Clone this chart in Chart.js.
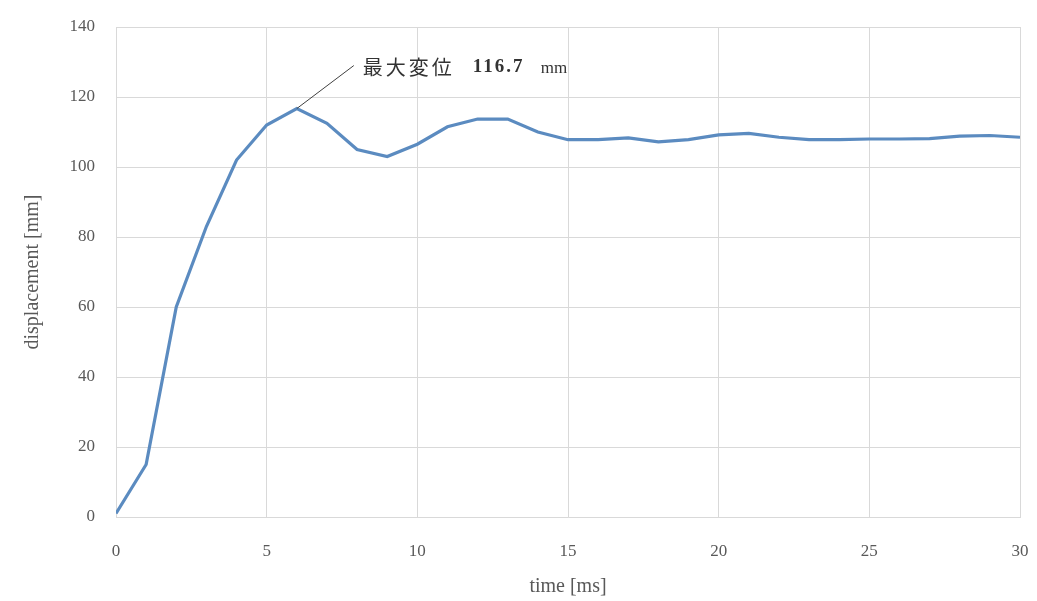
<!DOCTYPE html>
<html>
<head>
<meta charset="utf-8">
<script src="https://cdn.jsdelivr.net/npm/chart.js@4/dist/chart.umd.min.js"></script>
<style>
  html, body { margin: 0; padding: 0; background: #ffffff; }
  #wrap { width: 1037px; height: 601px; }
</style>
</head>
<body>
<div id="wrap"><canvas id="c" width="1037" height="601"></canvas></div>
<script>
// Time samples [ms]
const timeMs = [0,1,2,3,4,5,6,7,8,9,10,11,12,13,14,15,16,17,18,19,20,21,22,23,24,25,26,27,28,29,30];
// Displacement [mm]
const displacementMm = [1, 15, 60, 83, 102, 112, 116.7, 112.5, 105, 103, 106.5, 111.5, 113.7, 113.7, 110, 107.8, 107.8, 108.3, 107.2, 107.8, 109.2, 109.6, 108.5, 107.8, 107.8, 108, 108, 108.1, 108.8, 109, 108.5];
// Axis tick values
const xTicks = [0, 5, 10, 15, 20, 25, 30];
const yTicks = [0, 20, 40, 60, 80, 100, 120, 140];
// Peak annotation
const peakIndex = 6;
const peakWords = '最大変位';
const peakUnit = 'mm';

const points = timeMs.map((t, i) => ({ x: t, y: displacementMm[i] }));

const serif = "'Liberation Serif', 'DejaVu Serif', 'Noto Sans CJK JP', serif";
const tickColor = '#595959';
const gridColor = '#d9d9d9';

// Leader line and text for the maximum displacement
const peakNote = {
  id: 'peakNote',
  afterDatasetsDraw(chart) {
    const { ctx, scales } = chart;
    const peak = displacementMm[peakIndex];
    const px = scales.x.getPixelForValue(timeMs[peakIndex]);
    const py = scales.y.getPixelForValue(peak);
    ctx.save();
    ctx.strokeStyle = '#404040';
    ctx.lineWidth = 1;
    ctx.beginPath();
    ctx.moveTo(px, py);
    ctx.lineTo(px + 57, py - 43);
    ctx.stroke();
    ctx.fillStyle = '#333333';
    ctx.textBaseline = 'middle';
    ctx.textAlign = 'left';
    const ty = py - 41;
    ctx.font = "20px 'Noto Sans CJK JP', serif";
    ctx.letterSpacing = '3px';
    ctx.fillText(peakWords, px + 66, ty);
    ctx.font = "bold 19px 'Liberation Serif', serif";
    ctx.letterSpacing = '2px';
    ctx.fillText(peak.toFixed(1), px + 176, ty);
    ctx.font = "17px 'Liberation Serif', serif";
    ctx.letterSpacing = '0px';
    ctx.fillText(peakUnit, px + 244, ty + 1);
    ctx.restore();
  }
};

new Chart(document.getElementById('c'), {
  type: 'line',
  data: {
    datasets: [{
      data: points,
      borderColor: '#5b8bc0',
      borderWidth: 3.2,
      pointRadius: 0,
      tension: 0,
      fill: false
    }]
  },
  options: {
    responsive: false,
    animation: false,
    layout: { padding: { top: 27, right: 17, left: 0, bottom: 0 } },
    plugins: { legend: { display: false }, tooltip: { enabled: false } },
    scales: {
      x: {
        type: 'linear',
        min: 0,
        max: 30,
        afterBuildTicks(scale) { scale.ticks = xTicks.map(v => ({ value: v })); },
        afterFit(scale) { scale.height = 84; scale.paddingRight = 0; scale.paddingLeft = 0; },
        grid: { color: gridColor, lineWidth: 1, drawTicks: false },
        border: { color: gridColor },
        ticks: { color: tickColor, padding: 24, font: { family: serif, size: 17 } },
        title: { display: true, text: 'time [ms]', color: tickColor, font: { family: serif, size: 20 }, padding: { top: 0, bottom: 2 } }
      },
      y: {
        min: 0,
        max: 140,
        afterBuildTicks(scale) { scale.ticks = yTicks.map(v => ({ value: v })); },
        afterFit(scale) { scale.width = 116; scale.paddingTop = 0; scale.paddingBottom = 0; },
        grid: { color: gridColor, lineWidth: 1, drawTicks: false },
        border: { color: gridColor },
        ticks: { color: tickColor, padding: 21, font: { family: serif, size: 17 } },
        title: { display: true, text: 'displacement [mm]', color: tickColor, font: { family: serif, size: 20 }, padding: { top: 21, bottom: 0 } }
      }
    }
  },
  plugins: [peakNote]
});
</script>
</body>
</html>
